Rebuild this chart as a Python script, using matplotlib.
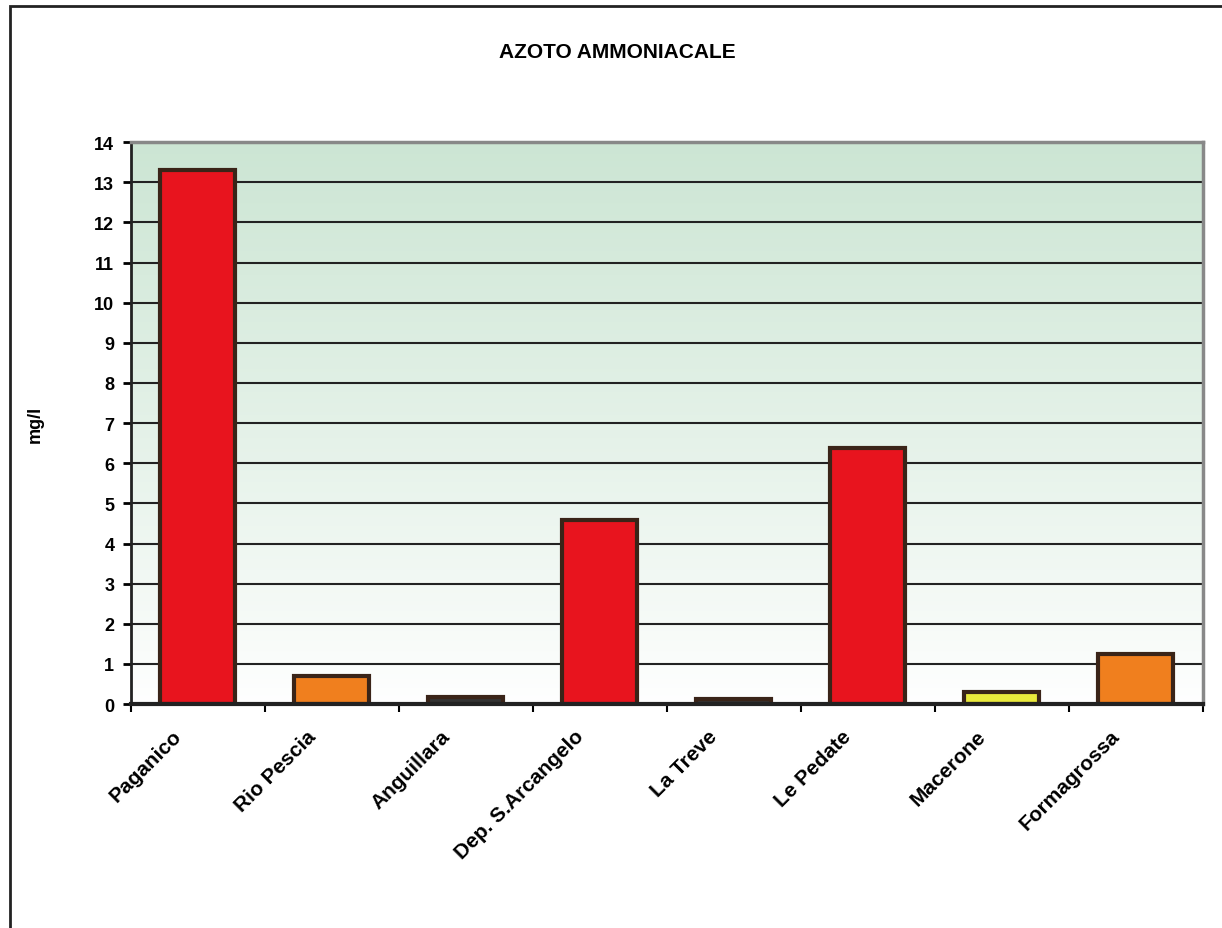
import matplotlib
matplotlib.use("Agg")
import matplotlib.pyplot as plt
import matplotlib.transforms as mtransforms
import numpy as np
from matplotlib.patches import Rectangle

# values (mg/l)
stations = ['Paganico', 'Rio Pescia', 'Anguillara', 'Dep. S.Arcangelo',
            'La Treve', 'Le Pedate', 'Macerone', 'Formagrossa']
values = [13.3, 0.7, 0.17, 4.58, 0.12, 6.38, 0.3, 1.25]
colors = ['#e8141e', '#f07f1e', '#333333', '#e8141e',
          '#333333', '#e8141e', '#eaea3c', '#f07f1e']

plt.rcParams['font.family'] = ['Liberation Sans', 'DejaVu Sans']
plt.rcParams['font.weight'] = 'bold'

fig = plt.figure(figsize=(12.22, 9.29), dpi=100)
ax = fig.add_axes([0.1072, 0.241, 0.877, 0.605])

# outer frame of the figure
fig.patches.append(Rectangle((10 / 1222, -0.01), 1.02, 1 - 7 / 929 + 0.01,
                             transform=fig.transFigure, fill=False,
                             edgecolor='#222222', linewidth=2))

# green-to-white gradient background
grad = np.linspace(0, 1, 256).reshape(-1, 1)
top = np.array([0.80, 0.90, 0.83])
bottom = np.array([1.0, 1.0, 1.0])
img = bottom + (top - bottom) * grad[..., None] ** 0.9
x = np.arange(len(stations))
ax.imshow(img, extent=[-0.5, len(stations) - 0.5, 0, 14], origin='lower',
          aspect='auto', zorder=0)

for v in range(1, 14):
    ax.axhline(v, color='#222222', linewidth=1.5, zorder=1)

ax.bar(x, values, width=0.56, color=colors, edgecolor='#3a2418',
       linewidth=3, zorder=2)

ax.set_xlim(-0.5, len(stations) - 0.5)
ax.set_ylim(0, 14)
ax.set_yticks(range(0, 15))
ax.set_xticks(np.arange(-0.5, len(stations), 1.0))
ax.set_xticklabels([])
ax.set_xticks(x, minor=True)
ax.set_xticklabels(stations, minor=True, rotation=45, ha='right', va='top',
                   rotation_mode='anchor', fontsize=15, fontweight='bold')
ax.tick_params(axis='x', which='minor', length=0, pad=16)
ax.tick_params(axis='x', which='major', length=6, width=1.5, direction='out')
ax.tick_params(axis='y', length=6, width=2, labelsize=13, pad=6)

# labels sit a bit left of the bar centres in the original
shift = mtransforms.ScaledTranslation(-0.26, 0, fig.dpi_scale_trans)
for lab in ax.get_xticklabels(minor=True):
    lab.set_transform(lab.get_transform() + shift)

for s in ['left', 'bottom']:
    ax.spines[s].set_color('#222222')
ax.spines['left'].set_linewidth(2)
ax.spines['bottom'].set_linewidth(3)
for s in ['top', 'right']:
    ax.spines[s].set_color('#888888')
    ax.spines[s].set_linewidth(2.5)

ax.set_ylabel('mg/l', fontsize=13, fontweight='bold', labelpad=36)
fig.text(0.505, 0.944, 'AZOTO AMMONIACALE', ha='center', va='center',
         fontsize=15, fontweight='bold')

fig.savefig('out.png', dpi=100)
